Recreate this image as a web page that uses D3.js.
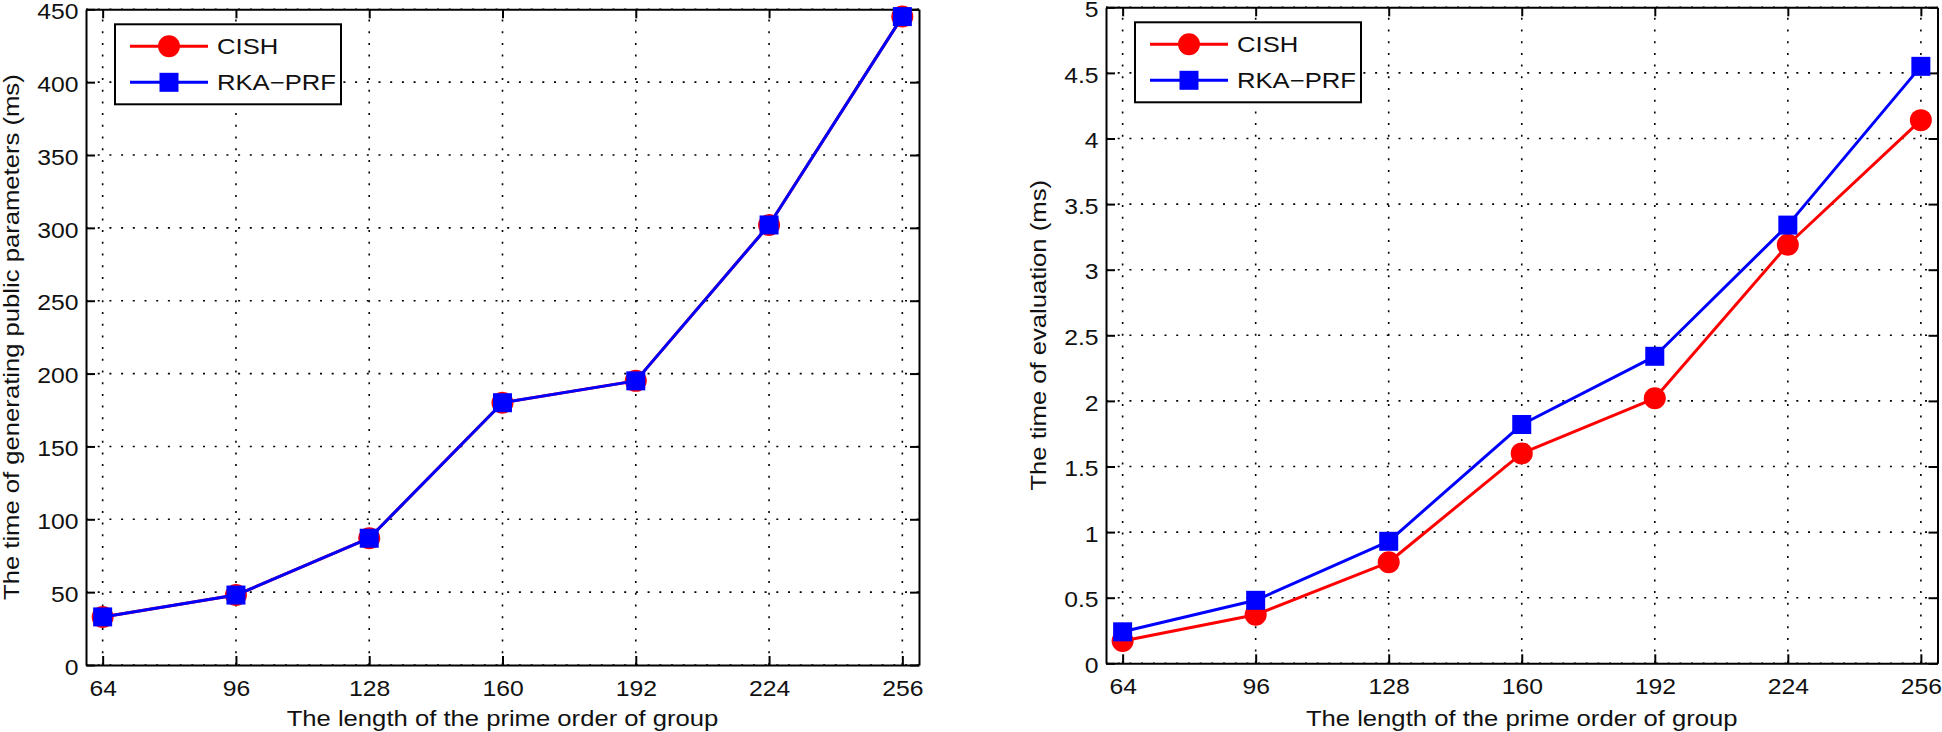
<!DOCTYPE html>
<html>
<head>
<meta charset="utf-8">
<script src="https://cdn.jsdelivr.net/npm/d3@7"></script>
<style>
  html, body { margin: 0; padding: 0; background: #fff; }
  svg { display: block; }
  text { font-family: "Liberation Sans", Arial, Helvetica, sans-serif; fill: #111; }
</style>
</head>
<body>
<svg id="chart" width="1942" height="732"></svg>
<script>
// ---------------- DATA ----------------
const primeLengths = [64, 96, 128, 160, 192, 224, 256];
const seriesNames = ["CISH", "RKA\u2212PRF"];

// Left chart: time of generating public parameters (ms)
const genCISH = [33, 48, 87, 180, 195, 302, 445];
const genRKA  = [33, 48, 87, 180, 195, 302, 445];

// Right chart: time of evaluation (ms)
const evalCISH = [0.17, 0.37, 0.77, 1.60, 2.02, 3.19, 4.14];
const evalRKA  = [0.24, 0.48, 0.93, 1.82, 2.34, 3.34, 4.55];

const leftYTicks  = [0, 50, 100, 150, 200, 250, 300, 350, 400, 450];
const rightYTicks = [0, 0.5, 1, 1.5, 2, 2.5, 3, 3.5, 4, 4.5, 5];

const xTitle = "The length of the prime order of group";
const leftYTitle = "The time of generating public parameters (ms)";
const rightYTitle = "The time of evaluation (ms)";

// ---------------- DRAWING ----------------
const svg = d3.select("#chart");
const FS = 21.5;      // tick font size
const SX = 1.15;      // horizontal glyph stretch for ticks
const TFS = 22.5;     // title / legend font size
const TSX = 1.14;
const RED = "#ff0000", BLUE = "#0000ff";

function drawPanel(cfg) {
  const x = d3.scaleLinear().domain([60, 260]).range([cfg.left, cfg.right]);
  const y = d3.scaleLinear().domain(cfg.yDomain).range([cfg.bottom, cfg.top]);
  const g = svg.append("g");

  // grid
  const grid = g.append("g").attr("stroke", "#000").attr("stroke-width", 1.6)
    .attr("stroke-dasharray", "2,9.7").attr("fill", "none");
  primeLengths.forEach(v => {
    grid.append("line").attr("x1", x(v)).attr("x2", x(v))
      .attr("y1", cfg.bottom).attr("y2", cfg.top);
  });
  cfg.yTicks.forEach(v => {
    grid.append("line").attr("y1", y(v)).attr("y2", y(v))
      .attr("x1", cfg.left).attr("x2", cfg.right);
  });

  const fmt = d => String(d);
  const styleAxis = sel => {
    sel.select(".domain").attr("stroke", "#000").attr("stroke-width", 2);
    sel.selectAll(".tick line").attr("stroke", "#000").attr("stroke-width", 2);
  };

  // bottom axis
  const gb = g.append("g").attr("transform", `translate(0,${cfg.bottom})`)
    .call(d3.axisBottom(x).tickValues(primeLengths).tickSize(-9).tickSizeOuter(0).tickFormat(fmt));
  styleAxis(gb);
  gb.selectAll("text").attr("y", 31).attr("dy", 0)
    .attr("font-size", FS).attr("font-family", null).attr("fill", "#111")
    .attr("transform", `scale(${SX},1)`);

  // top axis
  const gt = g.append("g").attr("transform", `translate(0,${cfg.top})`)
    .call(d3.axisTop(x).tickValues(primeLengths).tickSize(-9).tickSizeOuter(0).tickFormat(""));
  styleAxis(gt);

  // left axis
  const gl = g.append("g").attr("transform", `translate(${cfg.left},0)`)
    .call(d3.axisLeft(y).tickValues(cfg.yTicks).tickSize(-9).tickSizeOuter(0).tickFormat(fmt));
  styleAxis(gl);
  gl.selectAll("text").attr("x", -7.5 / SX).attr("dy", "0.43em")
    .attr("font-size", FS).attr("font-family", null).attr("fill", "#111")
    .attr("transform", `scale(${SX},1)`);

  // right axis
  const gr = g.append("g").attr("transform", `translate(${cfg.right},0)`)
    .call(d3.axisRight(y).tickValues(cfg.yTicks).tickSize(-9).tickSizeOuter(0).tickFormat(""));
  styleAxis(gr);

  // titles
  g.append("text")
    .attr("transform", `translate(${(cfg.left + cfg.right) / 2},726) scale(${TSX},1)`)
    .attr("text-anchor", "middle").attr("font-size", TFS).text(xTitle);
  g.append("text")
    .attr("transform", `translate(${cfg.yTitleX},${(cfg.top + cfg.bottom) / 2}) rotate(-90) scale(${TSX},1)`)
    .attr("text-anchor", "middle").attr("font-size", TFS).text(cfg.yTitle);

  // series
  const line = d3.line().x((d, i) => x(primeLengths[i])).y(d => y(d));
  const series = [
    { name: seriesNames[0], vals: cfg.a, color: RED, shape: "circle" },
    { name: seriesNames[1], vals: cfg.b, color: BLUE, shape: "square" }
  ];
  const drawMarker = (parent, cx, cy, s) => {
    if (s.shape === "circle") {
      parent.append("circle").attr("cx", cx).attr("cy", cy).attr("r", 11).attr("fill", s.color);
    } else {
      parent.append("rect").attr("x", cx - 9.5).attr("y", cy - 9.5)
        .attr("width", 19).attr("height", 19).attr("fill", s.color);
    }
  };
  series.forEach(s => {
    g.append("path").datum(s.vals).attr("d", line).attr("fill", "none")
      .attr("stroke", s.color).attr("stroke-width", 3).attr("stroke-linejoin", "round");
    s.vals.forEach((v, i) => drawMarker(g, x(primeLengths[i]), y(v), s));
  });

  // legend
  const lg = g.append("g").attr("transform", `translate(${cfg.left + 29},${cfg.top + 15})`);
  lg.append("rect").attr("width", 226).attr("height", 80)
    .attr("fill", "#fff").attr("stroke", "#000").attr("stroke-width", 2);
  series.forEach((s, i) => {
    const ry = 22 + i * 36;
    lg.append("line").attr("x1", 15).attr("x2", 93).attr("y1", ry).attr("y2", ry)
      .attr("stroke", s.color).attr("stroke-width", 3);
    drawMarker(lg, 54, ry, s);
    lg.append("text").attr("transform", `translate(102,${ry + 8}) scale(${TSX},1)`)
      .attr("font-size", TFS).text(s.name);
  });
}

drawPanel({
  left: 86, right: 919, top: 9.3, bottom: 665,
  yDomain: [0, 450], yTicks: leftYTicks,
  a: genCISH, b: genRKA, yTitle: leftYTitle, yTitleX: 19
});
drawPanel({
  left: 1106, right: 1937.5, top: 7.3, bottom: 663.3,
  yDomain: [0, 5], yTicks: rightYTicks,
  a: evalCISH, b: evalRKA, yTitle: rightYTitle, yTitleX: 1046
});
</script>
</body>
</html>
